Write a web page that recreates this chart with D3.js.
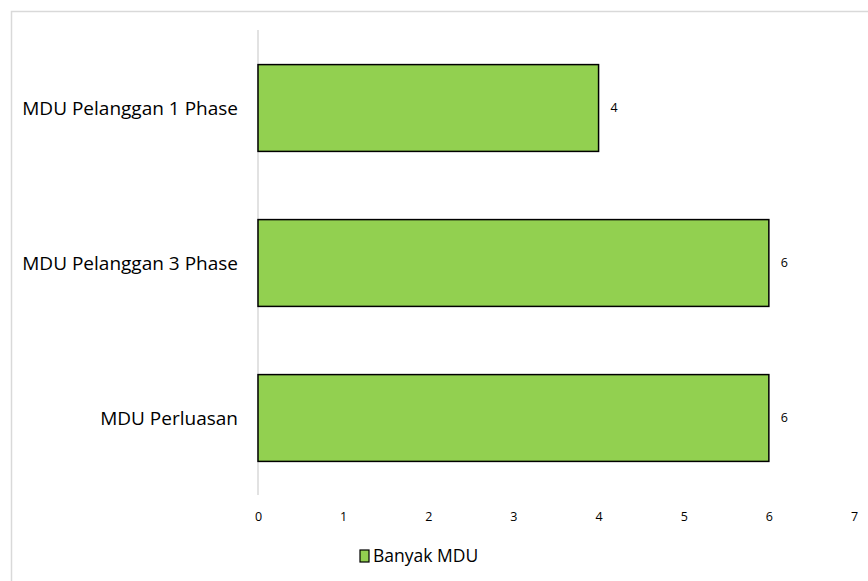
<!DOCTYPE html>
<html>
<head>
<meta charset="utf-8">
<script src="https://cdn.jsdelivr.net/npm/d3@7"></script>
<style>
  body { margin: 0; background: #fff; }
  text { font-family: "Open Sans", "Liberation Sans", sans-serif; fill: #000; }
</style>
</head>
<body>
<div class="container"></div>
<script>
const categories = ["MDU Pelanggan 1 Phase", "MDU Pelanggan 3 Phase", "MDU Perluasan"];
const values = [4, 6, 6];
const seriesName = "Banyak MDU";
const tickValues = [0, 1, 2, 3, 4, 5, 6, 7];

const W = 868, H = 581;
const svg = d3.select(".container")
              .append("svg")
              .attr("width", W)
              .attr("height", H);

// chart border
svg.append("rect")
   .attr("x", 11.5).attr("y", 11.5)
   .attr("width", W + 20).attr("height", H + 20)
   .attr("fill", "none")
   .attr("stroke", "#d9d9d9")
   .attr("stroke-width", 1.5);

const xScale = d3.scaleLinear()
                 .domain([0, 7])
                 .range([258, 854]);
const yScale = d3.scaleBand()
                 .domain(categories)
                 .range([30.5, 495.5])
                 .paddingInner(0.44)
                 .paddingOuter(0.22);

// vertical axis line
svg.append("line")
   .attr("x1", xScale(0)).attr("x2", xScale(0))
   .attr("y1", 30).attr("y2", 495)
   .attr("stroke", "#d9d9d9")
   .attr("stroke-width", 1.5);

const xAxis = d3.axisBottom(xScale)
                .tickValues(tickValues)
                .tickFormat(d3.format("d"))
                .tickSize(0)
                .tickPadding(0);
svg.append("g")
   .attr("transform", "translate(0, 512)")
   .call(xAxis)
   .call(g => g.select(".domain").remove())
   .selectAll("text")
   .attr("font-size", 12.5)
   .style("font-family", "'Open Sans', sans-serif");

// category labels
svg.append("g")
   .selectAll("text")
   .data(categories)
   .join("text")
   .attr("x", 238)
   .attr("y", d => yScale(d) + yScale.bandwidth() / 2)
   .attr("dy", "0.35em")
   .attr("text-anchor", "end")
   .attr("font-size", 19)
   .text(d => d);

const rows = categories.map((c, i) => ({cat: c, val: values[i]}));

svg.append("g")
   .selectAll("rect")
   .data(rows)
   .join("rect")
   .attr("x", xScale(0))
   .attr("y", d => yScale(d.cat))
   .attr("width", d => xScale(d.val) - xScale(0))
   .attr("height", yScale.bandwidth())
   .attr("fill", "#92d050")
   .attr("stroke", "#000")
   .attr("stroke-width", 1.5);

svg.append("g")
   .selectAll("text")
   .data(rows)
   .join("text")
   .attr("x", d => xScale(d.val) + 12)
   .attr("y", d => yScale(d.cat) + yScale.bandwidth() / 2)
   .attr("dy", "0.35em")
   .attr("font-size", 12.5)
   .text(d => d.val);

// legend
const legend = svg.append("g").attr("transform", "translate(360, 550)");
legend.append("rect")
      .attr("width", 9).attr("height", 12)
      .attr("fill", "#92d050")
      .attr("stroke", "#000")
      .attr("stroke-width", 1.2);
legend.append("text")
      .attr("x", 13)
      .attr("y", 6)
      .attr("dy", "0.35em")
      .attr("font-size", 17.5)
      .text(seriesName);
</script>
</body>
</html>
